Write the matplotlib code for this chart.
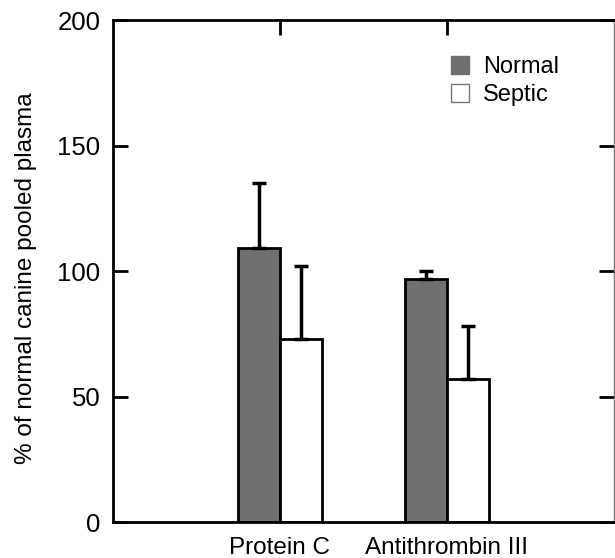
import numpy as np
import matplotlib
matplotlib.use("Agg")
import matplotlib.pyplot as plt
from matplotlib.patches import Patch

plt.rcParams['font.family'] = ['Liberation Sans', 'DejaVu Sans']

# data
categories = ['Protein C', 'Antithrombin III']
normal_mean = [109, 97]
normal_err = [26, 3]
septic_mean = [73, 57]
septic_err = [29, 21]

x = np.array([1, 2])
w = 0.25

fig = plt.figure(figsize=(6.15, 5.58), dpi=100)
ax = fig.add_axes([0.1837, 0.0645, 0.8146, 0.8996])

ax.bar(x - w / 2, normal_mean, width=w, color='#707070', edgecolor='black', linewidth=2,
       yerr=[np.zeros(2), normal_err], error_kw=dict(elinewidth=2.5, capsize=5, capthick=2.5, ecolor='black'))
ax.bar(x + w / 2, septic_mean, width=w, color='white', edgecolor='black', linewidth=2,
       yerr=[np.zeros(2), septic_err], error_kw=dict(elinewidth=2.5, capsize=5, capthick=2.5, ecolor='black'))

ax.set_xlim(0, 3)
ax.set_ylim(0, 200)
ax.set_xticks(x)
ax.set_xticklabels(categories, fontsize=17.5)
ax.set_yticks([0, 50, 100, 150, 200])
ax.tick_params(axis='y', which='both', direction='in', left=True, right=True,
               length=11, width=2, labelsize=18.5, pad=9)
ax.tick_params(axis='x', direction='in', bottom=False, top=True, length=11, width=2, pad=11)

for s in ['left', 'bottom', 'top']:
    ax.spines[s].set_linewidth(2)
ax.spines['right'].set_linewidth(1)
ax.spines['right'].set_color('#777777')

ax.set_ylabel('% of normal canine pooled plasma', fontsize=17.5)
ax.yaxis.set_label_coords(-0.152, 0.485)

handles = [Patch(facecolor='#707070', edgecolor='#707070', label='Normal'),
           Patch(facecolor='white', edgecolor='#777777', label='Septic')]
ax.legend(handles=handles, loc='upper left', bbox_to_anchor=(0.632, 0.97), frameon=False,
          fontsize=17, handlelength=0.75, handleheight=0.75, handletextpad=0.6, labelspacing=0.25)

fig.savefig('out.png', dpi=100)
